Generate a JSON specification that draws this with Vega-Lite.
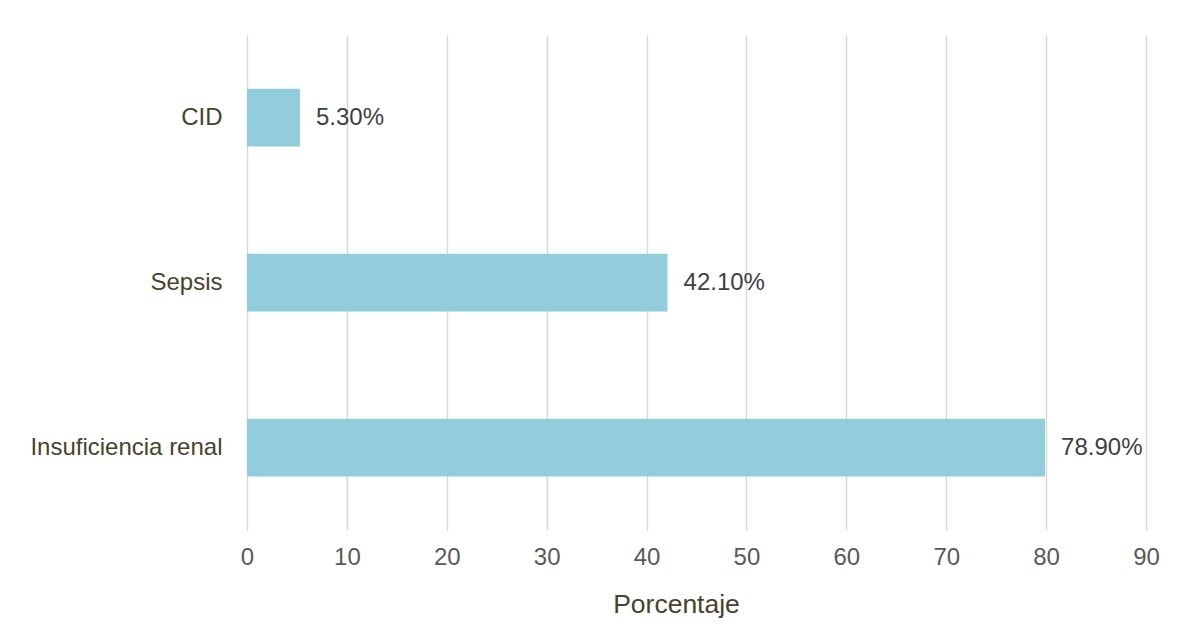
{
  "$schema": "https://vega.github.io/schema/vega-lite/v6.json",
  "autosize": "none",
  "width": 899,
  "height": 495,
  "padding": {"left": 247, "top": 35, "right": 37, "bottom": 110},
  "background": "white",
  "config": {
    "font": "Liberation Sans",
    "view": {"stroke": null}
  },
  "data": {
    "values": [
      {"causa": "CID", "porcentaje": 5.3, "etiqueta": "5.30%"},
      {"causa": "Sepsis", "porcentaje": 42.1, "etiqueta": "42.10%"},
      {"causa": "Insuficiencia renal", "porcentaje": 79.9, "etiqueta": "78.90%"}
    ]
  },
  "encoding": {
    "y": {
      "field": "causa",
      "type": "nominal",
      "sort": ["CID", "Sepsis", "Insuficiencia renal"],
      "scale": {"paddingInner": 0.65, "paddingOuter": 0.325},
      "axis": {
        "title": null,
        "domain": false,
        "ticks": false,
        "labelPadding": 25,
        "labelLimit": 400,
        "labelFontSize": 24,
        "labelColor": "#47432C",
        "labelFont": "Liberation Sans"
      }
    },
    "x": {
      "field": "porcentaje",
      "type": "quantitative",
      "scale": {"domain": [0, 90], "nice": false},
      "axis": {
        "title": "Porcentaje",
        "titleFontSize": 26.5,
        "titleFontWeight": "normal",
        "titleColor": "#47432C",
        "titlePadding": 22,
        "titleX": 429,
        "values": [0, 10, 20, 30, 40, 50, 60, 70, 80, 90],
        "domain": false,
        "ticks": false,
        "labelFlush": false,
        "labelPadding": 15,
        "labelFontSize": 24,
        "labelColor": "#595959",
        "grid": true,
        "gridColor": "#D9D9D9",
        "gridWidth": 1.5
      }
    }
  },
  "layer": [
    {
      "mark": {"type": "bar", "color": "#92CDDC"}
    },
    {
      "mark": {"type": "text", "align": "left", "baseline": "middle", "dx": 16, "fontSize": 24, "color": "#404040"},
      "encoding": {"text": {"field": "etiqueta"}}
    }
  ]
}
